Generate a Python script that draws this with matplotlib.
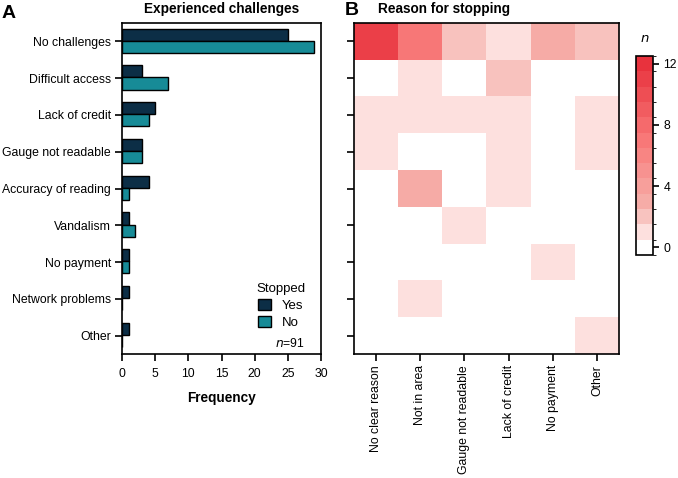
import numpy as np
import matplotlib
matplotlib.use("Agg")
import matplotlib.pyplot as plt
from matplotlib.colors import LinearSegmentedColormap, BoundaryNorm, ListedColormap

plt.rcParams['font.family'] = ['Liberation Sans', 'DejaVu Sans']

# ---- data ----
challenges = ['No challenges', 'Difficult access', 'Lack of credit', 'Gauge not readable',
              'Accuracy of reading', 'Vandalism', 'No payment', 'Network problems', 'Other']
stopped_yes = [25, 3, 5, 3, 4, 1, 1, 1, 1]
stopped_no = [29, 7, 4, 3, 1, 2, 1, 0, 0]

reasons = ['No clear reason', 'Not in area', 'Gauge not readable', 'Lack of credit',
           'No payment', 'Other']
# rows = challenges, columns = reasons
reason_counts = [
    [11, 7, 2, 1, 3, 2],
    [0, 1, 0, 2, 0, 0],
    [1, 1, 1, 1, 0, 1],
    [1, 0, 0, 1, 0, 1],
    [0, 3, 0, 1, 0, 0],
    [0, 0, 1, 0, 0, 0],
    [0, 0, 0, 0, 1, 0],
    [0, 1, 0, 0, 0, 0],
    [0, 0, 0, 0, 0, 1],
]
n_total = 91

col_yes = '#0c2e46'
col_no = '#178b97'
fs = 8.8

fig = plt.figure(figsize=(6.78, 4.78), dpi=100)
W, H = 678, 478

def px_axes(x0, y0, x1, y1):
    return fig.add_axes([x0 / W, 1 - y1 / H, (x1 - x0) / W, (y1 - y0) / H])

# ---- panel A ----
axA = px_axes(122, 23, 321, 354)
y = np.arange(len(challenges))
h = 0.33
axA.barh(y - h / 2 - 0.02, stopped_yes, height=h, color=col_yes, edgecolor='black',
         linewidth=1, label='Yes')
axA.barh(y + h / 2 - 0.02, stopped_no, height=h, color=col_no, edgecolor='black',
         linewidth=1, label='No')
axA.set_ylim(len(challenges) - 0.5, -0.5)
axA.set_xlim(0, 30)
axA.set_xticks([0, 5, 10, 15, 20, 25, 30])
axA.set_yticks(y)
axA.set_yticklabels(challenges, fontsize=fs)
axA.tick_params(axis='x', labelsize=fs)
axA.set_xlabel('Frequency', fontsize=9.8, fontweight='bold', labelpad=8)
axA.set_title('Experienced challenges', fontsize=9.8, fontweight='bold', pad=7)
for s in axA.spines.values():
    s.set_linewidth(1.2)
axA.tick_params(width=1.2, length=5, pad=3)
axA.tick_params(axis='x', pad=5)
leg = axA.legend(title='Stopped', loc='lower right', bbox_to_anchor=(0.98, 0.04),
                 frameon=False, fontsize=9.5, title_fontsize=9.5,
                 handlelength=1.0, handleheight=0.9, labelspacing=0.3, handletextpad=0.8)
axA.text(0.92, 0.033, r'$\it{n}$=' + str(n_total), transform=axA.transAxes,
         ha='right', va='center', fontsize=fs)

# ---- panel B ----
axB = px_axes(354, 23, 619, 354)
nodes = [(0.0, '#ffffff'), (1 / 12, '#fde0de'), (2 / 12, '#f8c2be'), (3 / 12, '#f6aca7'),
         (7 / 12, '#f87878'), (1.0, '#e8323d')]
base = LinearSegmentedColormap.from_list('reds', nodes)
cmap = ListedColormap([base(i / 12) for i in range(13)])
norm = BoundaryNorm(np.arange(-0.5, 13.5, 1), cmap.N)
im = axB.imshow(np.array(reason_counts), cmap=cmap, norm=norm, aspect='auto',
                interpolation='nearest')
axB.set_xticks(np.arange(len(reasons)))
axB.set_xticklabels(reasons, rotation=90, fontsize=fs)
axB.set_yticks(y)
axB.set_yticklabels([])
axB.set_title('Reason for stopping', fontsize=9.8, fontweight='bold', loc='left',
              x=0.09, pad=7)
for s in axB.spines.values():
    s.set_linewidth(1.2)
axB.tick_params(width=1.2, length=5, pad=3)

# colorbar
cax = px_axes(636, 56, 653, 255)
cb = fig.colorbar(im, cax=cax, ticks=[0, 4, 8, 12])
cb.outline.set_linewidth(1.2)
cax.tick_params(labelsize=fs, width=1.2, length=4)
cax.set_title(r'$\it{n}$', fontsize=9.5, pad=10)

# panel letters
fig.text(2 / W, 1 - 18 / H, 'A', fontsize=14, fontweight='bold', va='baseline')
fig.text(345 / W, 1 - 15 / H, 'B', fontsize=14, fontweight='bold', va='baseline')

fig.savefig('out.png', dpi=100)
